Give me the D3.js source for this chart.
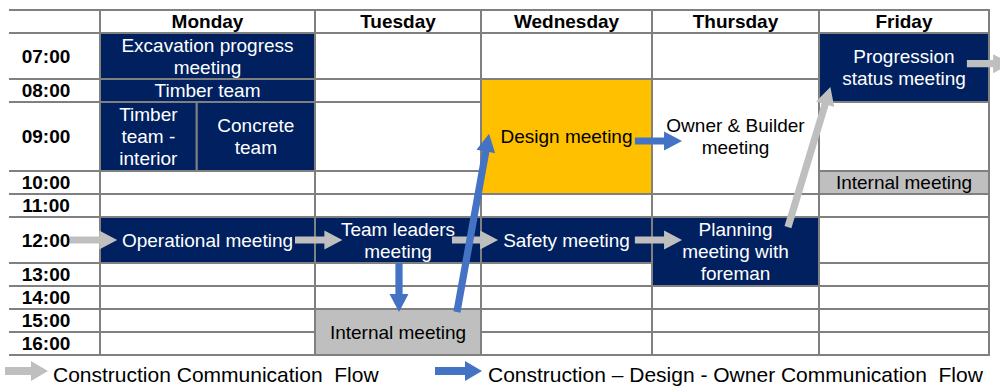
<!DOCTYPE html>
<html>
<head>
<meta charset="utf-8">
<script src="https://cdn.jsdelivr.net/npm/d3@7"></script>
<style>
  html, body { margin: 0; padding: 0; background: #fff; }
  svg { display: block; font-family: "Liberation Sans", Arial, sans-serif; }
</style>
</head>
<body>
<svg id="chart" width="1000" height="387"></svg>
<script>
// ---------------- DATA ----------------
const days = ["Monday", "Tuesday", "Wednesday", "Thursday", "Friday"];
const hours = ["07:00", "08:00", "09:00", "10:00", "11:00", "12:00", "13:00", "14:00", "15:00", "16:00"];
// relative height of each hour row in the table
const hourSpan = [2, 1, 3, 1, 1, 2, 1, 1, 1, 1];

// meetings: day index, first row, end row (exclusive), optional part of the day column
const meetings = [
  { day: 0, from: 0, to: 1, label: "Excavation progress\nmeeting", kind: "site" },
  { day: 0, from: 1, to: 2, label: "Timber team", kind: "site" },
  { day: 0, from: 2, to: 3, part: [0, 0.45], label: "Timber\nteam -\ninterior", kind: "site" },
  { day: 0, from: 2, to: 3, part: [0.45, 1], label: "Concrete\nteam", kind: "site" },
  { day: 0, from: 5, to: 6, label: "Operational meeting", kind: "site" },
  { day: 1, from: 5, to: 6, label: "Team leaders\nmeeting", kind: "site" },
  { day: 1, from: 8, to: 10, label: "Internal meeting", kind: "internal" },
  { day: 2, from: 1, to: 4, label: "Design meeting", kind: "design" },
  { day: 2, from: 5, to: 6, label: "Safety meeting", kind: "site" },
  { day: 3, from: 1, to: 4, label: "Owner & Builder\nmeeting", kind: "owner" },
  { day: 3, from: 5, to: 7, label: "Planning\nmeeting with\nforeman", kind: "site" },
  { day: 4, from: 0, to: 2, label: "Progression\nstatus meeting", kind: "site" },
  { day: 4, from: 3, to: 4, label: "Internal meeting", kind: "internal" }
];

// arrows, in table coordinates: [column position, row position]
// column 0 = time column, 1..5 = Monday..Friday; fractions are positions inside a cell
const constructionFlow = [
  { from: [0.67, 5.5], to: [1.08, 5.5] },
  { from: [1.907, 5.5], to: [2.165, 5.5] },
  { from: [2.825, 5.5], to: [3.10, 5.5] },
  { from: [3.90, 5.5], to: [4.18, 5.5] },
  { from: [4.814, 5.22], to: [5.067, 1.35] },
  { from: [5.87, 0.667], to: [6.13, 0.667] }
];
const designFlow = [
  { from: [3.90, 2.565], to: [4.18, 2.565] },
  { from: [2.506, 6.0], to: [2.506, 8.13] },
  { from: [2.855, 8.13], to: [3.047, 2.46] }
];
const legendLabels = ["Construction Communication  Flow", "Construction \u2013 Design - Owner Communication  Flow"];

// ---------------- LAYOUT ----------------
const colWidths = [91, 215, 166, 171, 167, 170];
const tableLeft = 9, tableTop = 10, headerH = 23, unitH = 23;
const fills = { site: "#002060", internal: "#BFBFBF", design: "#FFC000", owner: "#FFFFFF", empty: "#FFFFFF" };
const textColors = { site: "#FFFFFF", internal: "#000000", design: "#000000", owner: "#000000" };
const gridColor = "#808080";
const grayArrow = "#BFBFBF", blueArrow = "#4472C4";

const colEdges = [tableLeft];
colWidths.forEach(w => colEdges.push(colEdges[colEdges.length - 1] + w));
const x = d3.scaleLinear().domain(d3.range(colEdges.length)).range(colEdges);

const rowEdges = [tableTop, tableTop + headerH];
hourSpan.forEach(s => rowEdges.push(rowEdges[rowEdges.length - 1] + s * unitH));
const y = d3.scaleLinear().domain(d3.range(-1, hours.length + 1)).range(rowEdges);

const svg = d3.select("#chart");

// build cell list: meetings + empty single-hour cells
const cells = [];
days.forEach((d, di) => {
  const covered = new Set();
  meetings.filter(m => m.day === di).forEach(m => d3.range(m.from, m.to).forEach(r => covered.add(r)));
  hours.forEach((h, r) => {
    if (!covered.has(r)) cells.push({ day: di, from: r, to: r + 1, label: "", kind: "empty" });
  });
});
meetings.forEach(m => cells.push(m));

function cellBox(c) {
  const part = c.part || [0, 1];
  const x0 = x(c.day + 1 + part[0]), x1 = x(c.day + 1 + part[1]);
  return { x0, x1, y0: y(c.from), y1: y(c.to) };
}

// cells
const cellG = svg.append("g");
cellG.selectAll("rect.cell").data(cells).join("rect")
  .attr("class", "cell")
  .attr("x", d => cellBox(d).x0).attr("y", d => cellBox(d).y0)
  .attr("width", d => cellBox(d).x1 - cellBox(d).x0)
  .attr("height", d => cellBox(d).y1 - cellBox(d).y0)
  .attr("fill", d => fills[d.kind])
  .attr("stroke", gridColor).attr("stroke-width", 2);

// header cells
svg.append("g").selectAll("rect").data(days).join("rect")
  .attr("x", (d, i) => x(i + 1)).attr("y", y(-1))
  .attr("width", (d, i) => x(i + 2) - x(i + 1)).attr("height", y(0) - y(-1))
  .attr("fill", "#fff").attr("stroke", gridColor).attr("stroke-width", 2);

// time column horizontal lines
svg.append("g").selectAll("line").data(d3.range(-1, hours.length + 1)).join("line")
  .attr("x1", x(0)).attr("x2", x(1))
  .attr("y1", d => y(d)).attr("y2", d => y(d))
  .attr("stroke", gridColor).attr("stroke-width", 2);

// header labels
svg.append("g").selectAll("text").data(days).join("text")
  .attr("x", (d, i) => (x(i + 1) + x(i + 2)) / 2)
  .attr("y", (y(-1) + y(0)) / 2).attr("dy", "0.36em")
  .attr("text-anchor", "middle").attr("font-weight", "bold").attr("font-size", 19)
  .attr("fill", "#000").text(d => d);

// time labels
svg.append("g").selectAll("text").data(hours).join("text")
  .attr("x", x(0.407))
  .attr("y", (d, i) => (y(i) + y(i + 1)) / 2).attr("dy", "0.36em")
  .attr("text-anchor", "middle").attr("font-weight", "bold").attr("font-size", 19)
  .attr("fill", "#000").text(d => d);

// meeting labels
const lineH = 22;
const labelG = svg.append("g");
meetings.forEach(m => {
  const b = cellBox(m);
  const lines = m.label.split("\n");
  const cx = (b.x0 + b.x1) / 2, cy = (b.y0 + b.y1) / 2;
  const t = labelG.append("text")
    .attr("text-anchor", "middle").attr("font-size", 19)
    .attr("fill", textColors[m.kind]);
  lines.forEach((ln, i) => {
    t.append("tspan").attr("x", cx)
      .attr("y", cy + (i - (lines.length - 1) / 2) * lineH)
      .attr("dy", "0.36em").text(ln);
  });
});

// arrows
function arrowPath(p0, p1, w = 3.6, h = 9.5, L = 18) {
  const dx = p1[0] - p0[0], dy = p1[1] - p0[1];
  const len = Math.hypot(dx, dy);
  const ux = dx / len, uy = dy / len, nx = -uy, ny = ux;
  const bx = p1[0] - ux * L, by = p1[1] - uy * L;
  const pts = [
    [p0[0] + nx * w, p0[1] + ny * w],
    [bx + nx * w, by + ny * w],
    [bx + nx * h, by + ny * h],
    [p1[0], p1[1]],
    [bx - nx * h, by - ny * h],
    [bx - nx * w, by - ny * w],
    [p0[0] - nx * w, p0[1] - ny * w]
  ];
  return d3.line()(pts) + "Z";
}
const toPx = p => [x(p[0]), y(p[1])];
svg.append("g").selectAll("path").data(constructionFlow).join("path")
  .attr("d", d => arrowPath(toPx(d.from), toPx(d.to))).attr("fill", grayArrow);
svg.append("g").selectAll("path").data(designFlow).join("path")
  .attr("d", d => arrowPath(toPx(d.from), toPx(d.to))).attr("fill", blueArrow);

// legend
const legend = [
  { label: legendLabels[0], color: grayArrow, ax0: 5, ax1: 48, tx: 53 },
  { label: legendLabels[1], color: blueArrow, ax0: 435, ax1: 482, tx: 488 }
];
const lg = svg.append("g");
legend.forEach(l => {
  lg.append("path").attr("d", arrowPath([l.ax0, 371], [l.ax1, 371], 4, 10, 17)).attr("fill", l.color);
  lg.append("text").attr("x", l.tx).attr("y", 382).attr("font-size", 21)
    .attr("fill", "#000").style("white-space", "pre").text(l.label);
});
</script>
</body>
</html>
